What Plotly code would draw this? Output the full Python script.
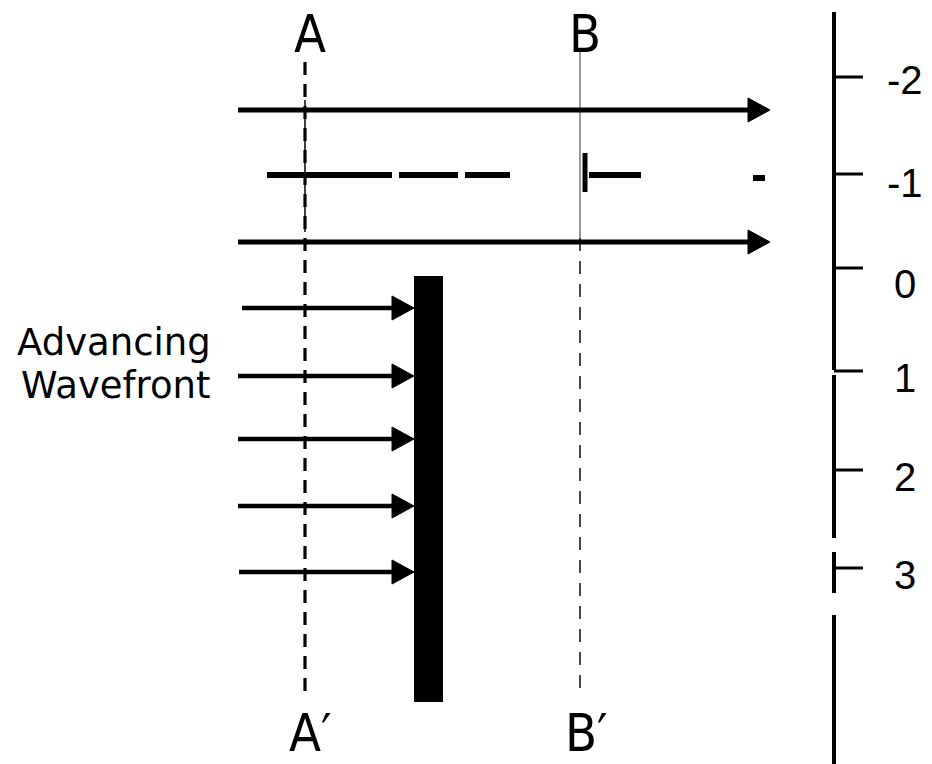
import plotly.graph_objects as go

W, H = 932, 764

# ---- diagram data (pixel space of the drawing) ----
top_arrow_y = [110, 242]
top_arrow_x0 = [238, 238]
top_arrow_tip = [770, 770]

wave_arrow_y = [308, 376, 439, 506, 572]
wave_arrow_x0 = [242, 238, 238, 238, 239]
wave_arrow_tip = [414, 414, 414, 414, 414]

barrier_x = [414, 443]
barrier_y = [276, 702]

dash_row_y = [175, 175, 175, 175, 178]
dash_row_x0 = [267, 399, 465, 589, 753]
dash_row_x1 = [392, 458, 510, 641, 765]
dash_marker_x = [585]
dash_marker_y = [153, 192]

line_A_x = [305]
line_A_y = [62, 695]
line_A_solid_y = [100, 232]
line_B_x = [580]
line_B_y = [238, 693]
line_B_solid_y = [50, 238]

scale_x = [834]
scale_seg_y0 = [12, 375, 552, 615]
scale_seg_y1 = [370, 538, 593, 764]
scale_tick_y = [77, 174, 268, 371, 470, 568]
scale_label_y = [80, 183, 284, 378, 477, 575]
scale_tick_labels = ["-2", "-1", "0", "1", "2", "3"]

section_labels = ["A", "B", "A\u2032", "B\u2032"]
section_label_x = [310, 585, 310, 586]
section_label_y = [34, 34, 733, 733]

side_text = ["Advancing", "Wavefront"]
side_text_x = [114, 116]
side_text_y = [342, 385]

HEAD_LEN = 22
HEAD_HALF = 12
INK = "black"

fig = go.Figure()


def seg(x, y, width, color=INK, dash=None):
    fig.add_trace(go.Scatter(x=x, y=y, mode="lines",
                             line=dict(color=color, width=width, dash=dash),
                             hoverinfo="skip", showlegend=False))


def arrow(x0, tip, y, width):
    seg([x0, tip - HEAD_LEN + 2], [y, y], width)
    fig.add_trace(go.Scatter(
        x=[tip - HEAD_LEN, tip, tip - HEAD_LEN, tip - HEAD_LEN],
        y=[y - HEAD_HALF, y, y + HEAD_HALF, y - HEAD_HALF],
        mode="lines", fill="toself", fillcolor=INK,
        line=dict(color=INK, width=1), hoverinfo="skip", showlegend=False))


# reference lines A-A' and B-B'
seg([line_A_x[0]] * 2, line_A_solid_y, 1.5)
seg([line_A_x[0]] * 2, line_A_y, 3.2, dash="13px,9px")
seg([line_B_x[0]] * 2, line_B_solid_y, 1.2, color="#555")
seg([line_B_x[0]] * 2, line_B_y, 1.8, color="#333", dash="13px,10px")

# passing arrows
for x0, tip, y in zip(top_arrow_x0, top_arrow_tip, top_arrow_y):
    arrow(x0, tip, y, 5)

# dashed row
for x0, x1, y in zip(dash_row_x0, dash_row_x1, dash_row_y):
    seg([x0, x1], [y, y], 6)
seg([dash_marker_x[0]] * 2, dash_marker_y, 5)

# wavefront arrows
for x0, tip, y in zip(wave_arrow_x0, wave_arrow_tip, wave_arrow_y):
    arrow(x0, tip, y, 4.5)

# barrier
fig.add_trace(go.Scatter(
    x=[barrier_x[0], barrier_x[1], barrier_x[1], barrier_x[0], barrier_x[0]],
    y=[barrier_y[0], barrier_y[0], barrier_y[1], barrier_y[1], barrier_y[0]],
    mode="lines", fill="toself", fillcolor=INK, line=dict(color=INK, width=0),
    hoverinfo="skip", showlegend=False))

# right-hand scale
for y0, y1 in zip(scale_seg_y0, scale_seg_y1):
    seg([scale_x[0]] * 2, [y0, y1], 4)
for ty in scale_tick_y:
    seg([scale_x[0], scale_x[0] + 29], [ty, ty], 3)

annotations = []
for lab, ly in zip(scale_tick_labels, scale_label_y):
    annotations.append(dict(x=905, y=ly, text=lab, showarrow=False,
                            xanchor="center", yanchor="middle",
                            font=dict(family="Liberation Sans", size=40, color=INK)))
for lab, lx, ly in zip(section_labels, section_label_x, section_label_y):
    annotations.append(dict(x=lx, y=ly, text=lab, showarrow=False,
                            xanchor="center", yanchor="middle",
                            font=dict(family="Liberation Sans Narrow, DejaVu Sans Condensed, Liberation Sans",
                                      size=52, color=INK)))
for t, tx, ty in zip(side_text, side_text_x, side_text_y):
    annotations.append(dict(x=tx, y=ty, text=t, showarrow=False,
                            xanchor="center", yanchor="middle",
                            font=dict(family="DejaVu Sans", size=37, color=INK)))

fig.update_layout(
    width=W, height=H,
    margin=dict(l=0, r=0, t=0, b=0),
    paper_bgcolor="white", plot_bgcolor="white",
    xaxis=dict(range=[0, W], visible=False, fixedrange=True),
    yaxis=dict(range=[H, 0], visible=False, fixedrange=True),
    annotations=annotations,
    showlegend=False,
)

fig.write_html("out.html",
               config={"displayModeBar": False, "staticPlot": True},
               post_script="document.body.style.margin='0';document.body.style.overflow='hidden';")
